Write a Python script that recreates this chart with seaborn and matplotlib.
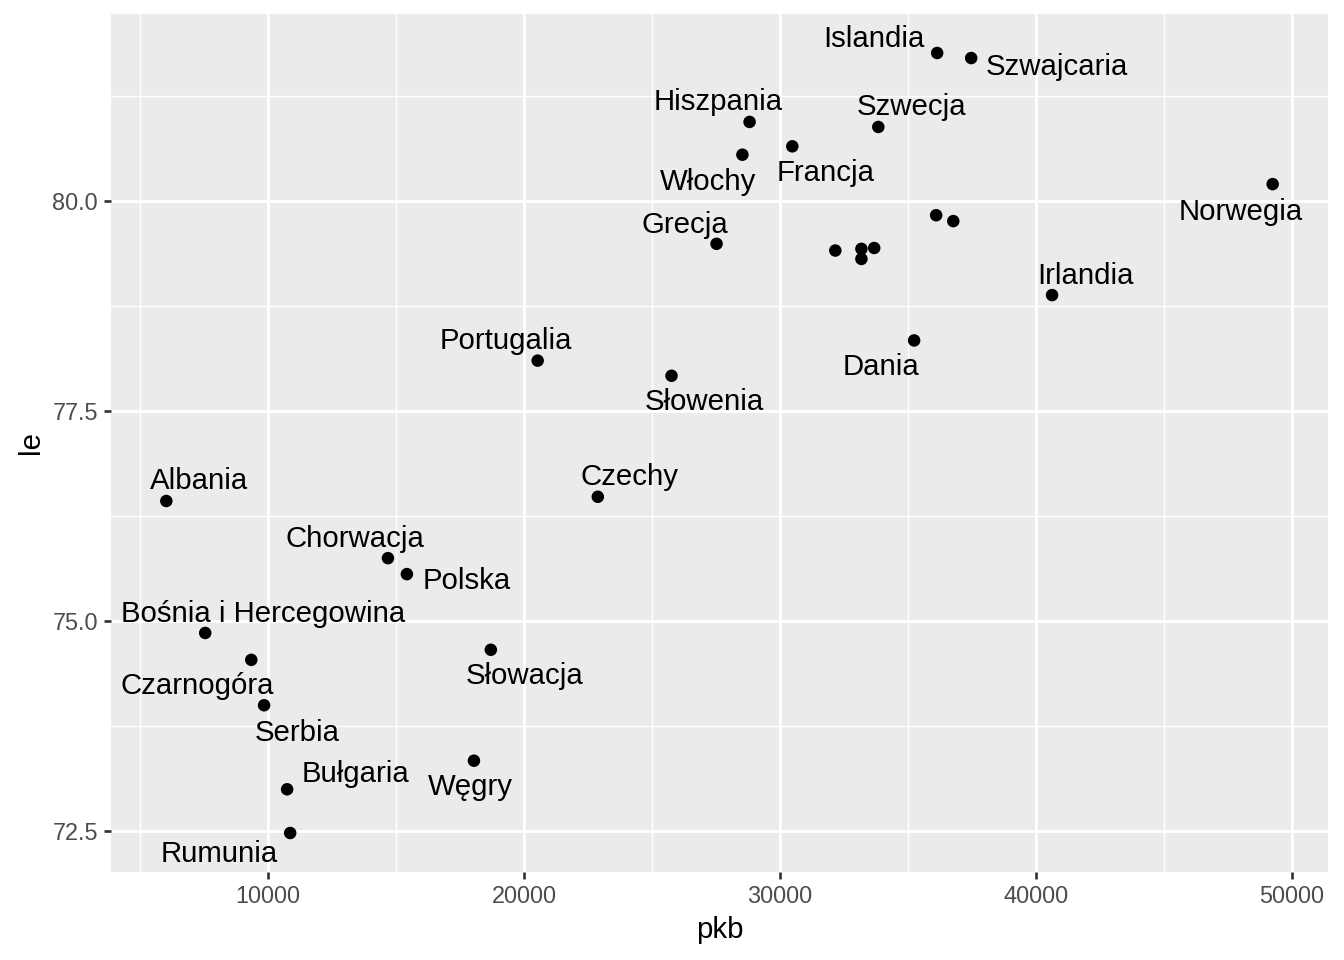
import numpy as np
import pandas as pd
import seaborn as sns
import matplotlib.pyplot as plt
from matplotlib.ticker import MultipleLocator

# dane: kraj, pkb (PKB per capita), le (oczekiwana długość życia)
kraj = ["Islandia", "Szwajcaria", "Hiszpania", "Szwecja", "Francja", "Włochy",
        "Norwegia", "", "", "Grecja", "", "", "", "",
        "Irlandia", "Dania", "Portugalia", "Słowenia", "Czechy", "Albania",
        "Chorwacja", "Polska", "Bośnia i Hercegowina", "Słowacja", "Czarnogóra",
        "Serbia", "Węgry", "Bułgaria", "Rumunia"]
pkb = [36140, 37470, 28810, 33840, 30480, 28530,
       49250, 36100, 36770, 27520, 32160, 33180, 33680, 33180,
       40630, 35240, 20530, 25760, 22880, 6020,
       14680, 15420, 7540, 18700, 9340,
       9840, 18040, 10740, 10860]
le = [81.76, 81.70, 80.94, 80.88, 80.65, 80.55,
      80.20, 79.83, 79.76, 79.49, 79.41, 79.43, 79.44, 79.31,
      78.88, 78.34, 78.10, 77.92, 76.48, 76.43,
      75.75, 75.56, 74.86, 74.66, 74.54,
      74.00, 73.34, 73.00, 72.48]

# przesunięcia etykiet (piksele, w dół dodatnie, jak w ggrepel)
offsets = {
    "Islandia": (-63, -16), "Szwajcaria": (86, 6), "Hiszpania": (-31, -22),
    "Szwecja": (33, -22), "Francja": (33, 24), "Włochy": (-34, 25),
    "Norwegia": (-32, 25), "Grecja": (-32, -21), "Irlandia": (33, -22),
    "Dania": (-33, 24), "Portugalia": (-32, -22), "Słowenia": (33, 24),
    "Czechy": (32, -22), "Albania": (33, -22), "Chorwacja": (-33, -22),
    "Polska": (60, 4), "Bośnia i Hercegowina": (58, -21), "Słowacja": (34, 24),
    "Czarnogóra": (-54, 24), "Serbia": (33, 25), "Węgry": (-4, 24),
    "Bułgaria": (68, -18), "Rumunia": (-71, 19),
}

df = pd.DataFrame({"kraj": kraj, "pkb": pkb, "le": le})

plt.rcParams['font.family'] = ['Liberation Sans', 'DejaVu Sans']

fig = plt.figure(figsize=(7, 5), dpi=192)
ax = fig.add_axes([111/1344, 1 - 872/960, (1328-111)/1344, (872-14)/960])
ax.set_facecolor("#EBEBEB")

sns.scatterplot(data=df, x="pkb", y="le", ax=ax, color="black", s=22,
                edgecolor="none", zorder=3)

for _, r in df.iterrows():
    if r["kraj"] == "":
        continue
    dx, dy = offsets[r["kraj"]]
    ax.annotate(r["kraj"], (r["pkb"], r["le"]), xytext=(dx, -dy - 2.5),
                textcoords="offset pixels", ha="center", va="center",
                fontsize=11, color="black", zorder=4)

xr = df["pkb"].max() - df["pkb"].min()
yr = df["le"].max() - df["le"].min()
ax.set_xlim(df["pkb"].min() - 0.05 * xr, df["pkb"].max() + 0.05 * xr)
ax.set_ylim(df["le"].min() - 0.05 * yr, df["le"].max() + 0.05 * yr)

ax.xaxis.set_major_locator(MultipleLocator(10000))
ax.xaxis.set_minor_locator(MultipleLocator(5000))
ax.yaxis.set_major_locator(MultipleLocator(2.5))
ax.yaxis.set_minor_locator(MultipleLocator(1.25))
ax.yaxis.set_major_formatter(plt.FormatStrFormatter("%.1f"))

ax.grid(which="major", color="white", linewidth=1.1)
ax.grid(which="minor", color="white", linewidth=0.55)
ax.set_axisbelow(True)
for s in ax.spines.values():
    s.set_visible(False)
ax.tick_params(which="major", length=2.75, width=1.0, color="#333333",
               labelsize=8.8, labelcolor="#4D4D4D", pad=2.2)
ax.tick_params(which="minor", length=0)

ax.set_xlabel("pkb", fontsize=11, labelpad=2.75)
ax.set_ylabel("le", fontsize=11, labelpad=2.75)

fig.savefig("out.png", dpi=192)
